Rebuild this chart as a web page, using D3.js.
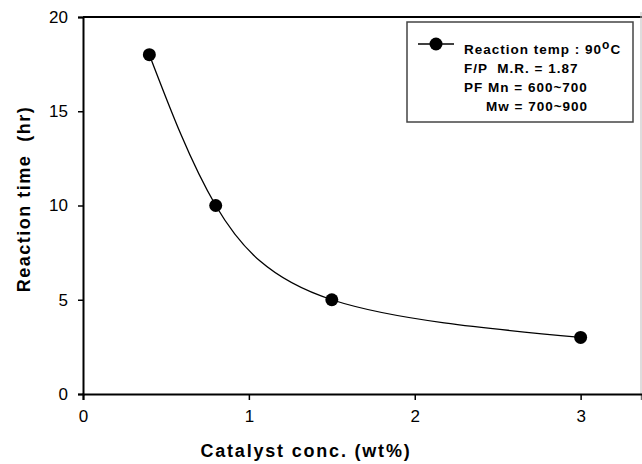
<!DOCTYPE html>
<html>
<head>
<meta charset="utf-8">
<script src="https://cdn.jsdelivr.net/npm/d3@7"></script>
<style>
  body { margin: 0; background: #fff; }
  svg { display: block; font-family: "Liberation Sans", Arial, sans-serif; }
  text { white-space: pre; }
</style>
</head>
<body>
<svg id="chart" width="642" height="464"></svg>
<script>
// data
var catalyst = [0.4, 0.8, 1.5, 3.0];
var reactionTime = [18, 10, 5, 3];
var xTicks = [0, 1, 2, 3];
var yTicks = [0, 5, 10, 15, 20];
var legendLines = ["F/P  M.R. = 1.87", "PF Mn = 600~700", "Mw = 700~900"];

var svg = d3.select("#chart");

var x = d3.scaleLinear().domain([0, 3.37]).range([83, 642]);
var y = d3.scaleLinear().domain([0, 20]).range([394, 17]);

// top frame line and right border
svg.append("line")
  .attr("x1", 83).attr("x2", 642)
  .attr("y1", y(20)).attr("y2", y(20))
  .attr("stroke", "#000").attr("stroke-width", 2);
svg.append("line")
  .attr("x1", 641).attr("x2", 641)
  .attr("y1", 12).attr("y2", 400)
  .attr("stroke", "#bbb").attr("stroke-width", 1);

var xAxis = svg.append("g")
  .attr("transform", "translate(0," + y(0) + ")")
  .call(d3.axisBottom(x).tickValues(xTicks).tickSize(6).tickPadding(10).tickFormat(d3.format("d")));
var yAxis = svg.append("g")
  .attr("transform", "translate(" + x(0) + ",0)")
  .call(d3.axisLeft(y).tickValues(yTicks).tickSize(5).tickPadding(10).tickFormat(d3.format("d")));

[xAxis, yAxis].forEach(function(g) {
  g.select(".domain").attr("stroke", "#000").attr("stroke-width", 2);
  g.selectAll(".tick line").attr("stroke", "#000").attr("stroke-width", 1.5);
  g.selectAll(".tick text")
    .attr("font-family", "Liberation Sans, Arial, sans-serif")
    .attr("font-size", 17).attr("fill", "#000");
});

// axis titles
svg.append("text")
  .attr("x", 306).attr("y", 457)
  .attr("text-anchor", "middle")
  .attr("font-size", 18).attr("font-weight", "bold")
  .attr("letter-spacing", 1.8)
  .text("Catalyst conc. (wt%)");

svg.append("text")
  .attr("transform", "translate(30,199) rotate(-90)")
  .attr("text-anchor", "middle")
  .attr("font-size", 18).attr("font-weight", "bold")
  .attr("letter-spacing", 1.5)
  .text("Reaction time  (hr)");

// smooth curve through the points
var pts = catalyst.map(function(c, i) { return [c, reactionTime[i]]; });
var line = d3.line()
  .x(function(d) { return x(d[0]); })
  .y(function(d) { return y(d[1]); })
  .curve(d3.curveNatural);

svg.append("path")
  .datum(pts)
  .attr("d", line)
  .attr("fill", "none")
  .attr("stroke", "#000")
  .attr("stroke-width", 1.3);

svg.selectAll("circle.pt")
  .data(pts)
  .enter().append("circle")
  .attr("class", "pt")
  .attr("cx", function(d) { return x(d[0]); })
  .attr("cy", function(d) { return y(d[1]); })
  .attr("r", 6.5)
  .attr("fill", "#000");

// legend
var lg = svg.append("g");
lg.append("rect")
  .attr("x", 407).attr("y", 22)
  .attr("width", 226).attr("height", 100)
  .attr("fill", "#fff")
  .attr("stroke", "#444").attr("stroke-width", 1.5);
lg.append("line")
  .attr("x1", 418).attr("x2", 454)
  .attr("y1", 44).attr("y2", 44)
  .attr("stroke", "#000").attr("stroke-width", 1.5);
lg.append("circle")
  .attr("cx", 436).attr("cy", 44).attr("r", 6.5).attr("fill", "#000");

var t1 = lg.append("text")
  .attr("x", 464).attr("y", 54)
  .attr("font-size", 13.5).attr("font-weight", "bold")
  .attr("letter-spacing", 1);
t1.append("tspan").text("Reaction temp : 90");
t1.append("tspan").attr("dy", -5).attr("font-size", 12).text("o");
t1.append("tspan").attr("dy", 5).text("C");

lg.selectAll("text.ln")
  .data(legendLines)
  .enter().append("text")
  .attr("class", "ln")
  .attr("x", function(d, i) { return i === 2 ? 486 : 464; })
  .attr("y", function(d, i) { return 73 + i * 19; })
  .attr("font-size", 13.5).attr("font-weight", "bold")
  .attr("letter-spacing", 1)
  .text(function(d) { return d; });
</script>
</body>
</html>
